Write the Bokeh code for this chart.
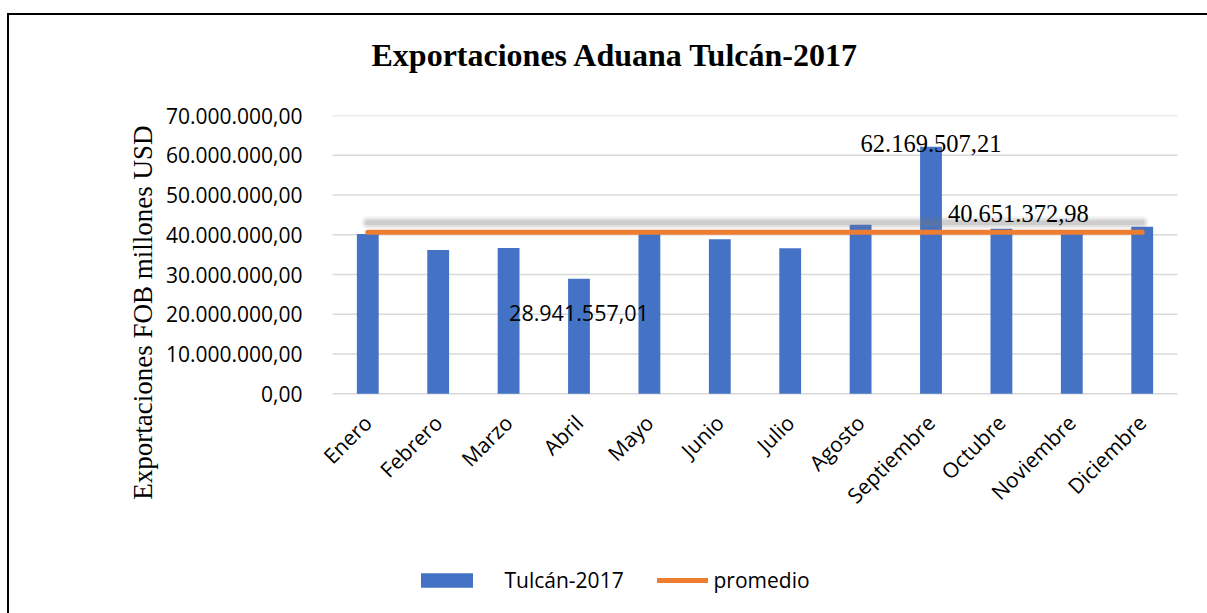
import math
from bokeh.plotting import figure
from bokeh.models import (FactorRange, Range1d, FixedTicker, CustomJSTickFormatter,
                          Legend, LegendItem, Title, ColumnDataSource)
from bokeh.core.properties import value
from bokeh.embed import file_html
from bokeh.resources import INLINE

# ---- data ----
meses = ["Enero", "Febrero", "Marzo", "Abril", "Mayo", "Junio", "Julio",
         "Agosto", "Septiembre", "Octubre", "Noviembre", "Diciembre"]
tulcan_2017 = [40.2e6, 36.2e6, 36.7e6, 28941557.01, 40.9e6, 38.9e6, 36.6e6,
               42.5e6, 62169507.21, 41.5e6, 41.0e6, 42.0e6]
promedio_valor = 40651372.98
promedio = [promedio_valor] * 12
y_ticks = [0, 10e6, 20e6, 30e6, 40e6, 50e6, 60e6, 70e6]

titulo = "Exportaciones Aduana Tulcán-2017"
titulo_y = "Exportaciones FOB millones USD"


def fmt(v):
    s = f"{v:,.2f}"
    return s.replace(",", "X").replace(".", ",").replace("X", ".")


SANS = "Open Sans"
SERIF = "Liberation Serif"

# plot area reaches down to the legend row; value axis spans 0..70M
p = figure(x_range=FactorRange(factors=meses, range_padding=0.2,
                               range_padding_units="absolute"),
           y_range=Range1d(-55.26e6, 70e6),
           width=1207, height=613, output_backend="svg", toolbar_location=None,
           min_border_left=318, min_border_right=16, min_border_top=115,
           min_border_bottom=0)
# outer chart border (top and left edges) painted behind the canvas
p.styles = {
    "background-color": "white",
    "background-image": "linear-gradient(#000, #000), linear-gradient(#000, #000)",
    "background-size": "2px 100%, 100% 2px",
    "background-position": "7px 13px, 7px 13px",
    "background-repeat": "no-repeat",
}
p.outline_line_color = None
p.background_fill_color = "white"
p.border_fill_alpha = 0

# title (spacer keeps it clear of the plot area)
p.title.text = titulo
p.title.align = "left"
p.title.offset = 53
p.title.standoff = 0
p.title.text_font = SERIF
p.title.text_font_size = "32px"
p.title.text_font_style = "bold"
p.title.text_color = "black"
p.add_layout(Title(text=" ", text_font_size="1px", standoff=40), "above")

# y axis title
p.add_layout(Title(text=titulo_y, align="right", offset=10, standoff=10,
                   text_font=SERIF, text_font_size="27px",
                   text_font_style="normal", text_color="black"), "left")

# horizontal gridlines between the first and last category
p.xgrid.grid_line_color = None
p.ygrid.grid_line_color = None
n = len(y_ticks)
p.segment(x0=[(meses[0], -0.5)] * n, x1=[(meses[-1], 0.5)] * n,
          y0=y_ticks, y1=y_ticks, line_color="#d9d9d9", line_width=1.5)

# y axis
p.yaxis.ticker = FixedTicker(ticks=y_ticks)
p.yaxis.formatter = CustomJSTickFormatter(code="""
const s = tick.toFixed(2);
const parts = s.split('.');
return parts[0].replace(/\\B(?=(\\d{3})+(?!\\d))/g, '.') + ',' + parts[1];
""")
p.yaxis.axis_line_color = None
p.yaxis.major_tick_line_color = None
p.yaxis.minor_tick_line_color = None
p.yaxis.major_label_standoff = 10
p.yaxis.major_label_text_font = SANS
p.yaxis.major_label_text_font_size = "21px"
p.yaxis.major_label_text_color = "black"

# x axis labels at value 0
p.xaxis.fixed_location = 0
p.xaxis.axis_line_color = None
p.xaxis.major_tick_line_color = None
p.xaxis.minor_tick_line_color = None
p.xaxis.major_label_orientation = math.pi / 4
p.xaxis.major_label_standoff = 19
p.xaxis.major_label_text_font = SANS
p.xaxis.major_label_text_font_size = "21px"
p.xaxis.major_label_text_color = "black"

# bars
src = ColumnDataSource(dict(mes=meses, valor=tulcan_2017))
r_bar = p.vbar(x="mes", top="valor", bottom=0, width=0.31, source=src,
               fill_color="#4472C4", line_color=None)

# soft shadow of the average line
sombra = [v + 2.4e6 for v in promedio]
for w, a in [(13, 0.09), (9, 0.14), (5, 0.2)]:
    p.line(x=meses, y=sombra, line_color="#7f7f7f", line_width=w,
           line_alpha=a, line_cap="round")

# average line
r_line = p.line(x=meses, y=promedio, line_color="#ED7D31", line_width=5,
                line_cap="round")

# data labels
idx_abr = meses.index("Abril")
idx_sep = meses.index("Septiembre")
p.text(x=[meses[idx_sep]], y=[tulcan_2017[idx_sep]],
       text=[fmt(tulcan_2017[idx_sep])], text_align="center",
       text_baseline="alphabetic", y_offset=-3,
       text_font=value(SERIF), text_font_size="24.5px", text_color="black")
p.text(x=[meses[idx_abr]], y=[tulcan_2017[idx_abr]],
       text=[fmt(tulcan_2017[idx_abr])], text_align="center",
       text_baseline="alphabetic", y_offset=34,
       text_font=value(SANS), text_font_size="21.5px", text_color="black")
p.text(x=["Octubre"], y=[promedio_valor], text=[fmt(promedio_valor)],
       text_align="center", text_baseline="alphabetic", x_offset=17,
       y_offset=-19, text_font=value(SERIF), text_font_size="24.5px",
       text_color="black")

# legends (bottom row)
common = dict(orientation="horizontal", padding=0, margin=0,
              border_line_color=None, background_fill_alpha=0,
              label_text_font=SANS, label_text_font_size="21px",
              label_text_color="black", label_height=18)
leg1 = Legend(items=[LegendItem(label="Tulcán-2017", renderers=[r_bar])],
              location=(95.5, 19), glyph_width=65, glyph_height=18,
              label_standoff=26, **common)
leg2 = Legend(items=[LegendItem(label="promedio", renderers=[r_line])],
              location=(338.5, 19), glyph_width=51, glyph_height=18,
              label_standoff=6, **common)
p.add_layout(leg1)
p.add_layout(leg2)

open("out.html", "w").write(file_html(p, INLINE))
